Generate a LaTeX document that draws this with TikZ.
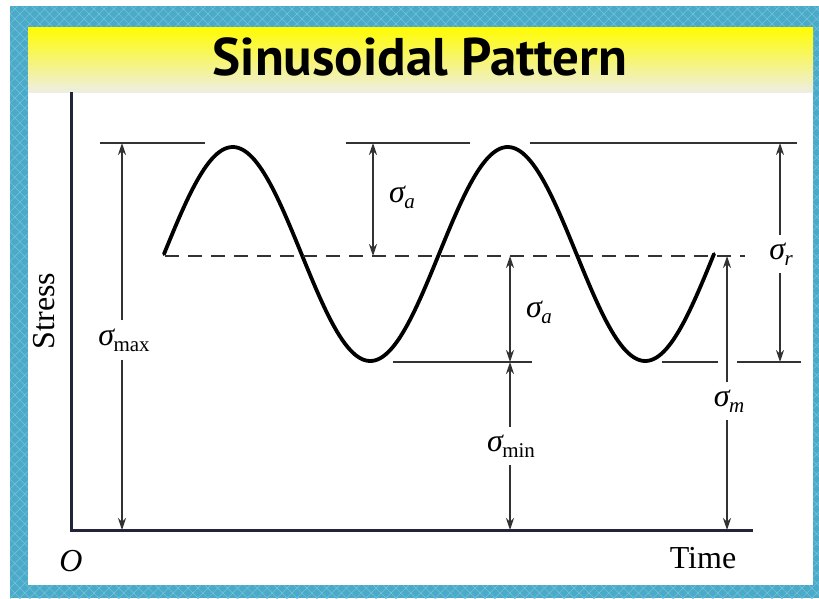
\documentclass[tikz,border=0pt]{standalone}
\usepackage{fontspec}
\setmainfont{Liberation Serif}
\newfontfamily\titlefont{PT Sans}
\usetikzlibrary{arrows.meta,patterns.meta}
\definecolor{bordblue}{RGB}{74,170,200}
\definecolor{bordlight}{RGB}{118,196,222}
\definecolor{linegray}{RGB}{50,50,50}
\definecolor{axisnavy}{RGB}{35,35,60}
\definecolor{titleyellow}{RGB}{255,252,0}
\definecolor{titlemid}{RGB}{248,244,110}
\definecolor{titlepale}{RGB}{238,238,228}
\newcommand{\sigl}[1]{{\fontsize{32}{32}\selectfont\itshape σ}\kern-0.5pt\raisebox{-6pt}{\fontsize{21}{21}\selectfont #1}}
\begin{document}
\begin{tikzpicture}[x=1pt,y=-1pt,
  dimline/.style={draw=linegray, line width=1.8pt},
  dimarrow/.style={dimline, -{Stealth[length=12pt,width=8pt]}},
  dimboth/.style={dimline, {Stealth[length=12pt,width=8pt]}-{Stealth[length=12pt,width=8pt]}},
  refline/.style={draw=linegray, line width=2.4pt},
  lbl/.style={inner xsep=1pt, inner ysep=8pt, text=black},
  axislabel/.style={font=\fontsize{32}{32}\selectfont, inner sep=0pt}
]
\useasboundingbox (0,0) rectangle (819,598);
\fill[white] (0,0) rectangle (819,598);
% border
\fill[bordblue] (10,6) rectangle (819,598);
\fill[pattern={Lines[angle=45,distance=7pt,line width=0.5pt]},pattern color=bordlight] (10,6) rectangle (819,598);
\fill[pattern={Lines[angle=-45,distance=7pt,line width=0.5pt]},pattern color=bordlight] (10,6) rectangle (819,598);
\fill[white] (28,27) rectangle (813,585);
% title bar
\shade[top color=titleyellow, middle color=titlemid, bottom color=titlepale] (28,27) rectangle (813,92);
\node[font=\titlefont\bfseries\fontsize{53}{53}\selectfont, inner sep=0pt, anchor=base] (title) at (420,75) {Sinusoidal Pattern};
% axes
\coordinate (ytop) at (71,92);
\coordinate (origin) at (71,530);
\coordinate (xend) at (753,530);
\draw[draw=axisnavy, line width=3pt, line join=miter] (ytop) -- (origin) -- (xend);
% curve
\draw[line width=3.8pt, line cap=round] plot[domain=164:714, samples=220] (\x,{254-107*sin((\x-164)/275*360)});
% mean dashed line
\coordinate (dashl) at (165,256);
\coordinate (dashr) at (745,256);
\draw[draw=linegray, line width=2.6pt, dash pattern=on 14pt off 9pt] (dashl) -- (dashr);
% reference lines
\coordinate (t1a) at (100,143); \coordinate (t1b) at (205,143);
\coordinate (t2a) at (346,143); \coordinate (t2b) at (470,143);
\coordinate (t3a) at (530,143); \coordinate (t3b) at (797,143);
\coordinate (b1a) at (393,362); \coordinate (b1b) at (532,362);
\coordinate (b2a) at (662,362); \coordinate (b2b) at (718,362);
\coordinate (b3a) at (737,362); \coordinate (b3b) at (801,362);
\draw[refline] (t1a) -- (t1b);
\draw[refline] (t2a) -- (t2b);
\draw[refline] (t3a) -- (t3b);
\draw[refline] (b1a) -- (b1b);
\draw[refline] (b2a) -- (b2b);
\draw[refline] (b3a) -- (b3b);
% sigma max
\coordinate (smaxtop) at (122,143);
\coordinate (smaxbot) at (122,530);
\node[lbl] (smax) at (124,340) {\sigl{max}};
\draw[dimarrow] (smax.north -| smaxtop) -- (smaxtop);
\draw[dimarrow] (smax.south -| smaxbot) -- (smaxbot);
% sigma a (upper)
\coordinate (satop) at (373,143);
\coordinate (sabot) at (373,256);
\draw[dimboth] (satop) -- (sabot);
\node[lbl] (sa1) at (402,197) {\sigl{\itshape a}};
% sigma a (lower)
\coordinate (sb1top) at (510,256);
\coordinate (sb1bot) at (510,362);
\draw[dimboth] (sb1top) -- (sb1bot);
\node[lbl] (sa2) at (539,312) {\sigl{\itshape a}};
% sigma min
\coordinate (smintop) at (510,362);
\coordinate (sminbot) at (510,530);
\node[lbl] (smin) at (511,446) {\sigl{min}};
\draw[dimarrow] (smin.north -| smintop) -- (smintop);
\draw[dimarrow] (smin.south -| sminbot) -- (sminbot);
% sigma r
\coordinate (srtop) at (780,143);
\coordinate (srbot) at (780,362);
\node[lbl] (sr) at (781,254) {\sigl{\itshape r}};
\draw[dimarrow] (sr.north -| srtop) -- (srtop);
\draw[dimarrow] (sr.south -| srbot) -- (srbot);
% sigma m
\coordinate (smtop) at (727,256);
\coordinate (smbot) at (727,530);
\node[lbl] (sm) at (729,401) {\sigl{\itshape m}};
\draw[dimarrow] (sm.north -| smtop) -- (smtop);
\draw[dimarrow] (sm.south -| smbot) -- (smbot);
% axis labels
\node[axislabel, rotate=90] (stress) at (44,311) {Stress};
\node[axislabel, anchor=base] (O) at (71,571) {\itshape O};
\node[axislabel, anchor=base] (time) at (703,568) {Time};
\end{tikzpicture}
\end{document}
